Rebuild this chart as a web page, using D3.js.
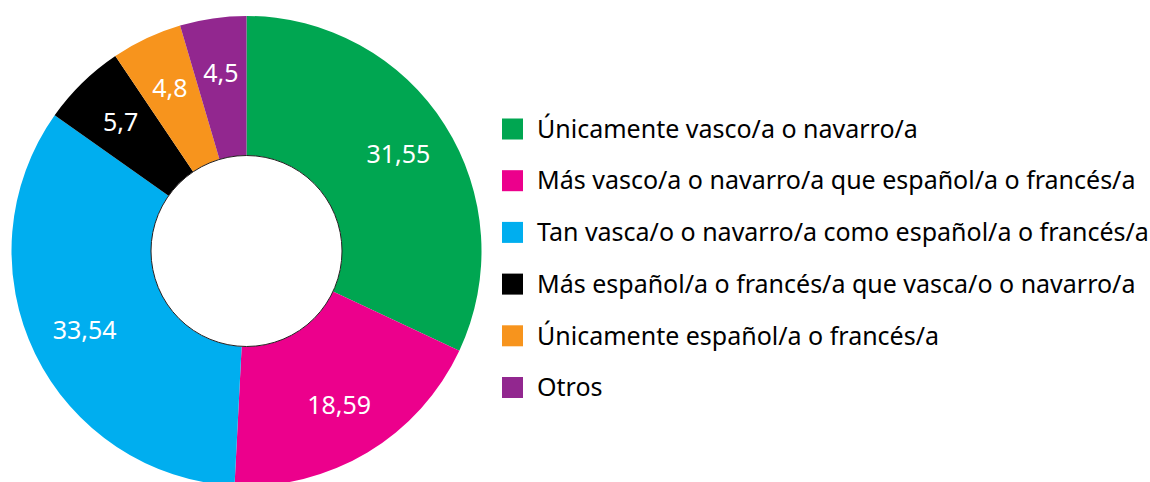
<!DOCTYPE html>
<html><head><meta charset="utf-8">
<script src="https://cdn.jsdelivr.net/npm/d3@7"></script>
<style>
html,body{margin:0;padding:0;background:#fff;}
svg{display:block;}
</style></head>
<body>
<svg id="chart" width="1150" height="482"></svg>
<script>
const categories = [
  "Únicamente vasco/a o navarro/a",
  "Más vasco/a o navarro/a que español/a o francés/a",
  "Tan vasca/o o navarro/a como español/a o francés/a",
  "Más español/a o francés/a que vasca/o o navarro/a",
  "Únicamente español/a o francés/a",
  "Otros"
];
const values = [31.55, 18.59, 33.54, 5.7, 4.8, 4.5];
const valueLabels = ["31,55", "18,59", "33,54", "5,7", "4,8", "4,5"];
const colors = ["#00a651", "#ec008c", "#00aeef", "#000000", "#f7941d", "#92278f"];

const svg = d3.select("#chart");
const cx = 246.5, cy = 251, outerR = 235, innerR = 95.5, labelR = 180;
const font = "'Noto Sans', 'Open Sans', sans-serif";

const data = categories.map((c, i) => ({cat: c, value: values[i], label: valueLabels[i], color: colors[i]}));
const pie = d3.pie().sort(null).value(d => d.value);
const arcs = pie(data);
const arc = d3.arc().innerRadius(innerR).outerRadius(outerR);
const labelArc = d3.arc().innerRadius(labelR).outerRadius(labelR);

const g = svg.append("g").attr("transform", `translate(${cx},${cy})`);
g.selectAll("path.slice").data(arcs).join("path")
  .attr("class", "slice")
  .attr("d", arc)
  .attr("fill", d => d.data.color);

g.append("circle").attr("r", innerR).attr("fill", "#fff")
  .attr("stroke", "#231f20").attr("stroke-width", 1);

g.selectAll("text.val").data(arcs).join("text")
  .attr("class", "val")
  .attr("transform", d => `translate(${labelArc.centroid(d)})`)
  .attr("text-anchor", "middle")
  .attr("dy", "0.36em")
  .attr("fill", "#fff")
  .style("font-family", font)
  .style("font-size", "25px")
  .text(d => d.data.label);

// legend
const legendY = d3.scalePoint().domain(categories).range([129, 387.5]);
const lg = svg.append("g");
const item = lg.selectAll("g.item").data(data).join("g")
  .attr("class", "item")
  .attr("transform", d => `translate(502,${legendY(d.cat)})`);
item.append("rect").attr("x", 0).attr("y", -10.5).attr("width", 21).attr("height", 21)
  .attr("fill", d => d.color);
item.append("text").attr("x", 35).attr("dy", "0.35em")
  .attr("fill", "#000")
  .style("font-family", font)
  .style("font-size", "25px")
  .text(d => d.cat);
</script>
</body></html>
